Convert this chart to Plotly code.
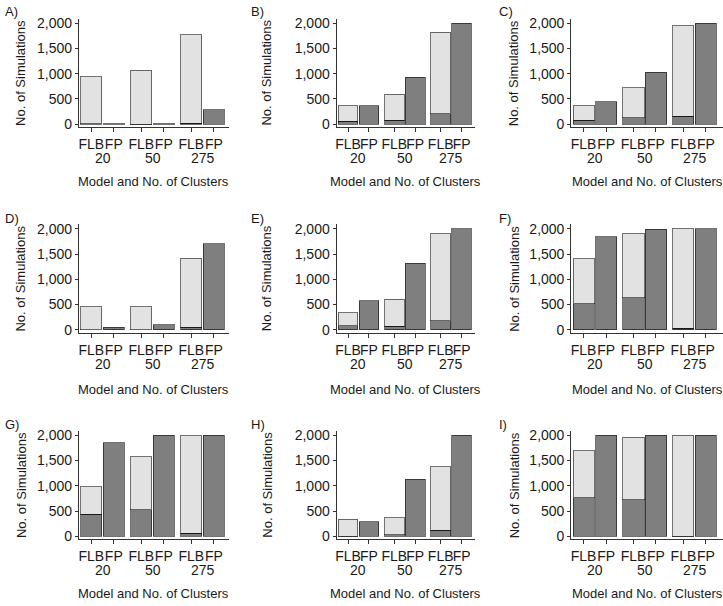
import plotly.graph_objects as go

# ---------------- data ----------------
models = ["FLB", "FP"]
clusters = ["20", "50", "275"]
panel_labels = ["A)", "B)", "C)", "D)", "E)", "F)", "G)", "H)", "I)"]
y_ticks = [0, 500, 1000, 1500, 2000]

# order of bars: FLB20, FP20, FLB50, FP50, FLB275, FP275
# total height of each bar
A_total = [935, 10, 1071, 8, 1772, 286]
B_total = [363, 370, 590, 928, 1824, 2000]
C_total = [363, 448, 720, 1025, 1953, 1995]
D_total = [458, 46, 458, 98, 1418, 1700]
E_total = [340, 575, 608, 1314, 1902, 2000]
F_total = [1405, 1843, 1902, 1995, 2000, 2000]
G_total = [980, 1850, 1577, 2000, 1995, 2000]
H_total = [337, 286, 363, 1129, 1382, 2000]
I_total = [1694, 2000, 1960, 2000, 2000, 2000]

# dark (lower) part of each bar
A_dark = [5, 10, 3, 8, 22, 286]
B_dark = [58, 370, 78, 928, 208, 2000]
C_dark = [78, 448, 130, 1025, 156, 1995]
D_dark = [5, 46, 3, 98, 52, 1700]
E_dark = [80, 575, 70, 1314, 183, 2000]
F_dark = [516, 1843, 634, 1995, 26, 2000]
G_dark = [441, 1850, 526, 2000, 65, 2000]
H_dark = [5, 286, 26, 1129, 117, 2000]
I_dark = [759, 2000, 720, 2000, 5, 2000]

totals = [A_total, B_total, C_total, D_total, E_total, F_total, G_total, H_total, I_total]
darks = [A_dark, B_dark, C_dark, D_dark, E_dark, F_dark, G_dark, H_dark, I_dark]

# ---------------- layout ----------------
W, H = 723, 606
FONT = "Liberation Sans, Arial, sans-serif"
TXT = "#1a1a1a"
LIGHT = "#e2e2e2"
DARK = "#7f7f7f"
OUTLINE = "rgba(0,0,0,0.55)"
AX = "#333333"

group_step = 2.22
bar_w = 0.94
bar_model = [m for c in clusters for m in models]
bar_x = [gi * group_step + mi for gi, c in enumerate(clusters) for mi, m in enumerate(models)]
group_x = [gi * group_step + 0.5 for gi in range(len(clusters))]

col_px = [(78, 228, 6.10), (336, 475, 6.10), (571, 723, 6.20)]
row_px = [(15, 125), (223.7, 333.7), (433.3, 543.3)]
ytitle_x = [20, 266, 514]
xtitle_y = [180, 391, 598]
label_x = [2, 248, 497]
label_y = [8, 218, 427]
y_range = [-58, 2088]

fig = go.Figure()
annotations = []

for k in range(9):
    r, c = divmod(k, 3)
    n = k + 1
    xa = f"x{n}" if n > 1 else "x"
    ya = f"y{n}" if n > 1 else "y"
    tot, dk = totals[k], darks[k]
    light = [t - d if m == "FLB" else None for t, d, m in zip(tot, dk, bar_model)]

    fig.add_trace(go.Bar(x=bar_x, y=dk, width=bar_w, xaxis=xa, yaxis=ya,
                         marker=dict(color=DARK, line=dict(color=OUTLINE, width=1)),
                         showlegend=False, hoverinfo="skip"))
    fig.add_trace(go.Bar(x=bar_x, y=light, width=bar_w, xaxis=xa, yaxis=ya,
                         marker=dict(color=LIGHT, line=dict(color=OUTLINE, width=1)),
                         showlegend=False, hoverinfo="skip"))

    x0, x1, xr = col_px[c]
    t0, t1 = row_px[r]
    xkey = "xaxis" if n == 1 else f"xaxis{n}"
    ykey = "yaxis" if n == 1 else f"yaxis{n}"
    fig.update_layout(**{
        xkey: dict(domain=[x0 / W, min(x1 / W, 1.0)], anchor=ya, range=[-0.55, xr],
                   tickmode="array", tickvals=bar_x, ticktext=bar_model, tickangle=0,
                   showline=True, linecolor=AX, linewidth=1, ticks="outside",
                   ticklen=4, tickcolor=AX, tickwidth=1, showgrid=False, zeroline=False,
                   tickfont=dict(family=FONT, size=14, color=TXT), fixedrange=True),
        ykey: dict(domain=[1 - t1 / H, 1 - t0 / H], anchor=xa, range=y_range,
                   tickvals=y_ticks, tickformat=",", showline=True, linecolor=AX,
                   linewidth=1, ticks="outside", ticklen=3, tickcolor=AX, tickwidth=1,
                   showgrid=False, zeroline=False,
                   tickfont=dict(family=FONT, size=14, color=TXT), fixedrange=True),
    })

    # cluster numbers under the model labels
    for gx, cl in zip(group_x, clusters):
        annotations.append(dict(x=gx, xref=xa, y=0, yref=f"{ya} domain", text=cl,
                                showarrow=False, yanchor="middle", xanchor="center",
                                yshift=-31, font=dict(family=FONT, size=14, color=TXT)))
    # axis titles
    annotations.append(dict(x=(x0 + min(x1, 725)) / 2 / W, xref="paper",
                            y=1 - xtitle_y[r] / H, yref="paper",
                            text="Model and No. of Clusters", showarrow=False,
                            xanchor="center", yanchor="middle",
                            font=dict(family=FONT, size=13, color=TXT)))
    annotations.append(dict(x=ytitle_x[c] / W, xref="paper",
                            y=1 - (t0 + t1) / 2 / H, yref="paper",
                            text="No. of Simulations", textangle=-90, showarrow=False,
                            xanchor="center", yanchor="middle",
                            font=dict(family=FONT, size=13, color=TXT)))
    # panel label
    annotations.append(dict(x=label_x[c] / W, xref="paper", y=1 - label_y[r] / H,
                            yref="paper", text=panel_labels[k], showarrow=False,
                            xanchor="left", yanchor="middle",
                            font=dict(family=FONT, size=13, color=TXT)))

fig.update_layout(width=W, height=H, margin=dict(l=0, r=0, t=0, b=0),
                  barmode="stack", plot_bgcolor="white", paper_bgcolor="white",
                  showlegend=False, annotations=annotations)

fig.write_html("out.html", config={"displayModeBar": False},
               post_script="document.body.style.margin='0px';")
